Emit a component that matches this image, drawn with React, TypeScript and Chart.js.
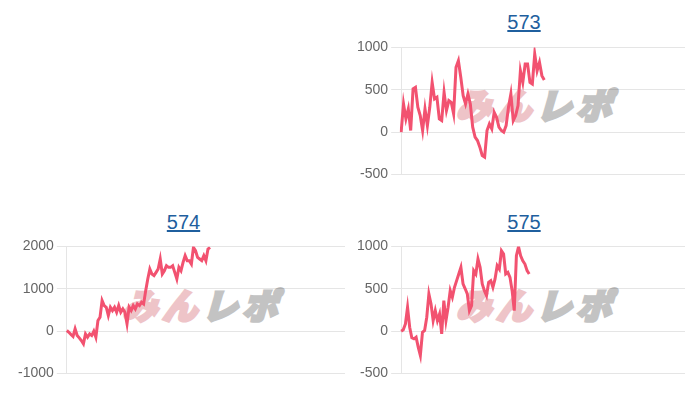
import React, { useEffect, useRef } from "react";
import { Chart, registerables } from "chart.js";

Chart.register(...registerables);

// ---- data ----
const values573 = [
  0, 333, 157, 275, 20, 510, 529, 294, 196, 20, 275, 78, 294, 588, 392, 412, 157, 137, 471, 255,
  373, 353, 216, 765, 843, 647, 431, 333, 451, 333, 59, -59, -98, -176, -275, -294, 20, 98, 39, 235,
  176, 59, 20, 0, 78, 294, 451, 137, 196, 314, 725, 588, 804, 804, 588, 569, 922, 725, 824, 667, 616,
];
const values574 = [
  16, -24, -78, -125, 55, -102, -157, -220, -298, -63, -141, -63, -102, 0, -141, 251, 329, 722, 604, 565,
  369, 565, 486, 565, 447, 604, 447, 525, 447, 173, 565, 486, 604, 525, 643, 604, 682, 643, 957, 1231,
  1467, 1349, 1310, 1388, 1467, 1702, 1349, 1427, 1545, 1506, 1506, 1545, 1388, 1231, 1506, 1427, 1624, 1780, 1663, 1663,
  1584, 1976, 1898, 1741, 1702, 1663, 1780, 1663, 1937, 1976,
];
const values575 = [
  0, 16, 86, 282, 47, -78, -90, -71, -188, -286, -12, 8, 165, 439, 322, 125, 243, 125, 204, -31,
  361, 125, 282, 478, 400, 518, 596, 675, 753, 557, 500, 439, 243, 302, 714, 675, 851, 753, 557, 478,
  420, 577, 596, 518, 616, 773, 733, 949, 910, 675, 694, 635, 478, 243, 890, 996, 890, 831, 792, 714, 675,
];

const slots573 = Array.from({ length: 120 }, (_, i) => String(i + 1));
const slots574 = Array.from({ length: 135 }, (_, i) => String(i + 1));
const slots575 = Array.from({ length: 134 }, (_, i) => String(i + 1));

const titles = ["573", "574", "575"];
const yRange573 = [-500, 1000, 500];
const yRange574 = [-1000, 2000, 1000];
const yRange575 = [-500, 1000, 500];

const LINE_COLOR = "rgb(242, 82, 112)";

type Box = { left: number; top: number; width: number; height: number };

function LineBox(props: {
  labels: string[];
  values: number[];
  range: number[];
  box: Box;
  padLeft: number;
  padRight: number;
}) {
  const ref = useRef<HTMLCanvasElement | null>(null);
  useEffect(() => {
    if (!ref.current) return;
    const chart = new Chart(ref.current, {
      type: "line",
      data: {
        labels: props.labels,
        datasets: [
          {
            data: props.values,
            borderColor: LINE_COLOR,
            backgroundColor: LINE_COLOR,
            borderWidth: 3,
            pointRadius: 0,
            pointHoverRadius: 0,
            tension: 0,
            fill: false,
          },
        ],
      },
      options: {
        animation: false,
        responsive: true,
        maintainAspectRatio: false,
        plugins: { legend: { display: false }, tooltip: { enabled: false } },
        layout: { padding: { left: props.padLeft, right: props.padRight, top: 0, bottom: 0 } },
        scales: {
          x: { display: false },
          y: {
            min: props.range[0],
            max: props.range[1],
            ticks: {
              stepSize: props.range[2],
              color: "#666",
              padding: 3,
              font: { size: 14, family: "'Liberation Sans', Arial, sans-serif" },
              callback: (v: any) => String(v),
            },
            grid: { color: "rgba(0,0,0,0.1)", tickLength: 10 },
            border: { color: "rgba(0,0,0,0.1)" },
          },
        },
      },
    });
    return () => chart.destroy();
  }, []);
  const b = props.box;
  return (
    <div style={{ position: "absolute", left: b.left, top: b.top, width: b.width, height: b.height }}>
      <canvas ref={ref} />
    </div>
  );
}

function Title(props: { text: string; cx: number; top: number }) {
  return (
    <div
      style={{
        position: "absolute",
        left: props.cx - 100,
        top: props.top,
        width: 200,
        textAlign: "center",
        fontFamily: "'Liberation Sans', Arial, sans-serif",
        fontSize: 20,
        lineHeight: "23px",
      }}
    >
      <a href="#" style={{ color: "#1f5f9e", textDecoration: "underline" }}>
        {props.text}
      </a>
    </div>
  );
}

function Watermark(props: Box) {
  return (
    <div
      style={{
        position: "absolute",
        left: props.left,
        top: props.top,
        width: props.width,
        height: props.height,
        display: "flex",
        alignItems: "center",
        justifyContent: "center",
        fontFamily: "'Noto Sans CJK JP', sans-serif",
        fontWeight: 900,
        fontSize: 35,
        lineHeight: 1,
        letterSpacing: 5,
        transform: "skewX(-16deg)",
        whiteSpace: "nowrap",
      }}
    >
      <span style={{ color: "rgb(238, 196, 200)", WebkitTextStroke: "3px rgb(238, 196, 200)" }}>みん</span>
      <span style={{ color: "rgb(195, 195, 195)", WebkitTextStroke: "3px rgb(195, 195, 195)" }}>レポ</span>
    </div>
  );
}

export default function App() {
  return (
    <div style={{ position: "relative", width: 684, height: 384 }}>
      <Title text={titles[0]} cx={516} top={3} />
      <Watermark left={450} top={80} width={165} height={30} />
      <LineBox labels={slots573} values={values573} range={yRange573}
        box={{ left: 342, top: 28, width: 342, height: 150 }} padLeft={4} padRight={7} />

      <Title text={titles[1]} cx={175.5} top={203} />
      <Watermark left={122} top={280} width={153} height={30} />
      <LineBox labels={slots574} values={values574} range={yRange574}
        box={{ left: 0, top: 227, width: 342, height: 150 }} padLeft={7} padRight={5} />

      <Title text={titles[2]} cx={516} top={203} />
      <Watermark left={450} top={280} width={165} height={30} />
      <LineBox labels={slots575} values={values575} range={yRange575}
        box={{ left: 342, top: 227, width: 342, height: 150 }} padLeft={4} padRight={7} />
    </div>
  );
}
